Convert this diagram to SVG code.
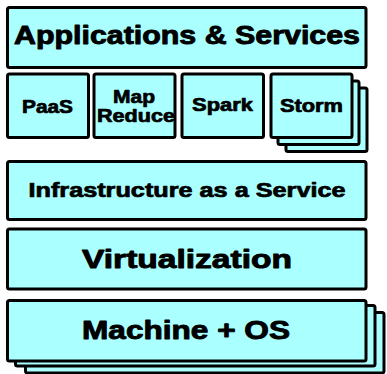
<svg xmlns="http://www.w3.org/2000/svg" width="387" height="374" viewBox="0 0 387 374">
  <style>
    .box { fill: #aaffff; stroke: #000; stroke-width: 3; }
    .lbl { font-family: "Liberation Sans", Arial, sans-serif; font-weight: bold; fill: #000; stroke: #000; stroke-width: 0.9; stroke-linejoin: round; text-anchor: middle; }
    .big { font-size: 25px; }
    .mid { font-size: 19.5px; stroke-width: 0.7; }
    .small { font-size: 18px; stroke-width: 0.7; }
  </style>
  <rect width="387" height="374" fill="#fff"/>

  <g id="apps">
    <rect class="box" x="7.5" y="7.5" width="358.5" height="60" rx="2"/>
    <text class="lbl big" x="187" y="44" textLength="346" lengthAdjust="spacingAndGlyphs">Applications &amp; Services</text>
  </g>

  <g id="paas">
    <rect class="box" x="7.5" y="74" width="81" height="63.5" rx="2"/>
    <text class="lbl small" x="47.5" y="113" textLength="51" lengthAdjust="spacingAndGlyphs">PaaS</text>
  </g>

  <g id="mapreduce">
    <rect class="box" x="94" y="74" width="81" height="63.5" rx="2"/>
    <text class="lbl small" x="134" y="103" textLength="42" lengthAdjust="spacingAndGlyphs">Map</text>
    <text class="lbl small" x="136" y="122" textLength="78" lengthAdjust="spacingAndGlyphs">Reduce</text>
  </g>

  <g id="spark">
    <rect class="box" x="182" y="74" width="81.5" height="63.5" rx="2"/>
    <text class="lbl small" x="222.5" y="111" textLength="61" lengthAdjust="spacingAndGlyphs">Spark</text>
  </g>

  <g id="storm">
    <rect class="box" x="286" y="88" width="81" height="63.5" rx="2"/>
    <rect class="box" x="278" y="81" width="81" height="63.5" rx="2"/>
    <rect class="box" x="271" y="74" width="81" height="63.5" rx="2"/>
    <text class="lbl small" x="311.5" y="112" textLength="63" lengthAdjust="spacingAndGlyphs">Storm</text>
  </g>

  <g id="iaas">
    <rect class="box" x="7.5" y="161.5" width="358.5" height="58" rx="2"/>
    <text class="lbl mid" x="187" y="197" textLength="317" lengthAdjust="spacingAndGlyphs">Infrastructure as a Service</text>
  </g>

  <g id="virtualization">
    <rect class="box" x="7.5" y="229" width="358.5" height="60" rx="2"/>
    <text class="lbl big" x="187" y="268" textLength="210" lengthAdjust="spacingAndGlyphs">Virtualization</text>
  </g>

  <g id="machine">
    <rect class="box" x="25.5" y="312.5" width="358.5" height="60.5" rx="2"/>
    <rect class="box" x="15.5" y="305.5" width="359.5" height="60.5" rx="2"/>
    <rect class="box" x="7.5" y="300.5" width="358.5" height="60.5" rx="2"/>
    <text class="lbl big" x="186" y="339" textLength="208" lengthAdjust="spacingAndGlyphs">Machine + OS</text>
  </g>

  <g id="connectors"/>
</svg>
